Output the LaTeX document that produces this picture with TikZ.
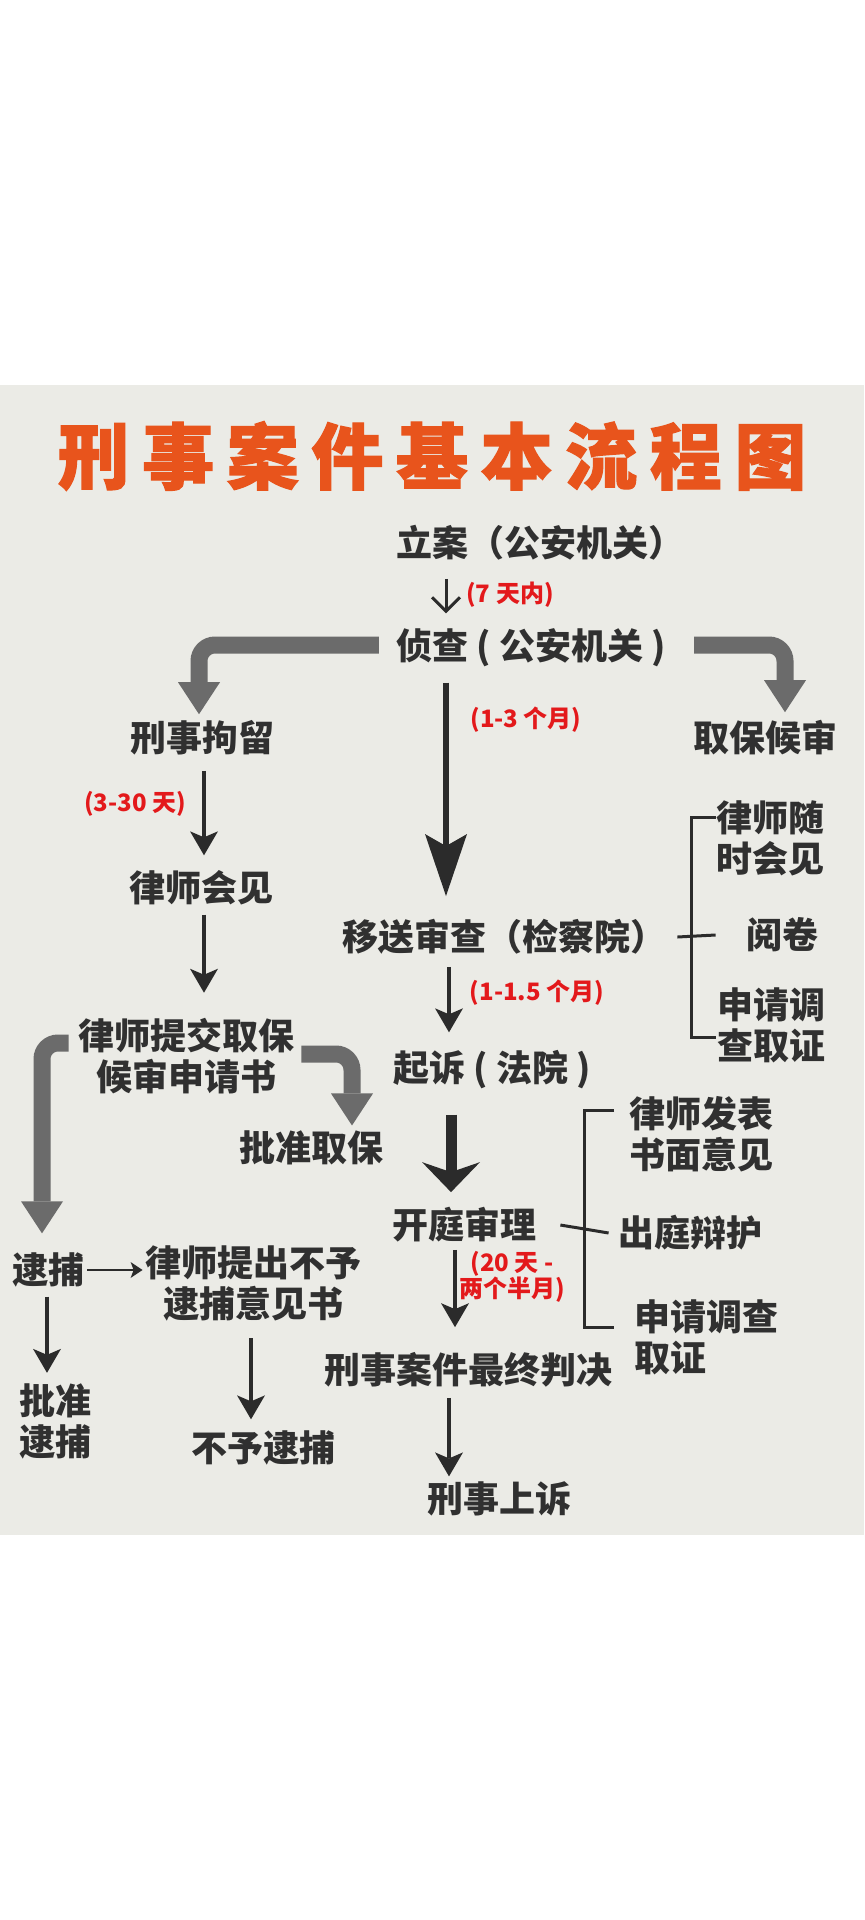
\documentclass[tikz,border=0pt]{standalone}
\usepackage{fontspec}
\setmainfont{Noto Sans CJK SC}
\newfontfamily\titlefont{Noto Sans CJK SC}[FakeBold=1.6]
\usetikzlibrary{arrows.meta}
\definecolor{bgc}{HTML}{EBEBE6}
\definecolor{titlec}{HTML}{E8541C}
\definecolor{txtc}{HTML}{303030}
\definecolor{redc}{HTML}{E3191B}
\definecolor{grayc}{HTML}{6B6B6B}
\definecolor{darkc}{HTML}{2B2B2B}
\newcommand{\tsp}{\hspace{6.3pt}}
\tikzset{
  titlesty/.style={font=\fontsize{36pt}{40pt}\titlefont\bfseries, text=titlec, inner sep=0pt},
  txt/.style={font=\fontsize{18pt}{20.5pt}\selectfont\bfseries, text=txtc, inner sep=0pt, align=center},
  redlbl/.style={font=\fontsize{12pt}{13pt}\selectfont\bfseries, text=redc, inner sep=0pt, align=center},
  grayarr/.style={draw=grayc, line width=8.5pt, rounded corners=8pt, -{Triangle[length=16pt,width=21pt,line width=0pt]}},
  bigarr/.style={draw=darkc, line width=3pt, -{Stealth[length=31pt,width=21pt,inset=6pt,line width=0pt]}},
  thickarr/.style={draw=darkc, line width=5.5pt, -{Stealth[length=15pt,width=29pt,inset=5pt,line width=0pt]}},
  thinarr/.style={draw=darkc, line width=1.75pt, -{Stealth[length=12pt,width=14pt,inset=3pt,line width=0pt]}},
  barbarr/.style={draw=darkc, line width=1.5pt, -{Straight Barb[length=7pt,width=14pt]}},
  smallarr/.style={draw=darkc, line width=1.4pt, -{Stealth[length=6pt,width=8pt,inset=1.5pt,line width=0pt]}},
  brk/.style={draw=darkc, line width=1.5pt},
}
\begin{document}
\begin{tikzpicture}[x=0.5pt,y=-0.5pt]
\fill[white] (0,0) rectangle (864,1920);
\useasboundingbox (0,0) rectangle (864,1920);
\fill[bgc] (0,385) rectangle (864,1535);

% title
\node[titlesty] (title) at (432,456) {刑\tsp 事\tsp 案\tsp 件\tsp 基\tsp 本\tsp 流\tsp 程\tsp 图};

% main nodes
\node[txt] (la) at (540,543) {立案（公安机关）};
\node[txt] (zc) at (531,648) {侦查 ( 公安机关 )};
\node[txt] (xjl) at (202,738) {刑事拘留};
\node[txt] (qbhs) at (765,738) {取保候审};
\node[txt] (lsjj) at (201,888) {律师会见};
\node[txt] (tj) at (186,1056) {律师提交取保\\候审申请书};
\node[txt] (pzqb) at (311,1148) {批准取保};
\node[txt] (db) at (48,1270) {逮捕};
\node[txt] (tc) at (253,1283) {律师提出不予\\逮捕意见书};
\node[txt] (pzdb) at (55,1421) {批准\\逮捕};
\node[txt] (bydb) at (263,1448) {不予逮捕};
\node[txt] (ys) at (504,937) {移送审查（检察院）};
\node[txt] (qs) at (492,1070) {起诉 ( 法院 )};
\node[txt] (kt) at (464,1225) {开庭审理};
\node[txt] (zz) at (468,1370) {刑事案件最终判决};
\node[txt] (ss) at (499,1499) {刑事上诉};
\node[txt] (r1) at (770,838) {律师随\\时会见};
\node[txt] (r2) at (782,935) {阅卷};
\node[txt] (r3) at (771,1025) {申请调\\查取证};
\node[txt] (s1) at (701,1134) {律师发表\\书面意见};
\node[txt] (s2) at (690,1233) {出庭辩护};
\node[txt, align=left, anchor=west] (s3) at (634,1337) {申请调查\\取证};

% red labels
\node[redlbl] (l1) at (510,595) {(7 天内)};
\node[redlbl] (l2) at (526,720) {(1-3 个月)};
\node[redlbl] (l3) at (135,804) {(3-30 天)};
\node[redlbl] (l4) at (537,993) {(1-1.5 个月)};
\node[redlbl] (l5) at (512,1277) {(20 天 -\\两个半月)};

% column coordinates
\coordinate (c1) at (446,0);
\coordinate (c3) at (449,0);
\coordinate (c4) at (451,0);
\coordinate (c5) at (455,0);
\coordinate (c6) at (449,0);
\coordinate (c7) at (204,0);
\coordinate (c10) at (47,0);
\coordinate (c11) at (251,0);
\coordinate (g1) at (199,0);
\coordinate (g2) at (785,0);
\coordinate (g3) at (42,0);
\coordinate (g4) at (352,0);

% central column
\draw[barbarr, shorten <=9pt, shorten >=7.5pt] (la.south -| c1) -- (zc.north -| c1);
\draw[bigarr, shorten <=7.5pt, shorten >=11.5pt] (zc.south -| c1) -- (ys.north -| c1);
\draw[thinarr, shorten <=6pt, shorten >=9pt] (ys.south -| c3) -- (qs.north -| c3);
\draw[thickarr, shorten <=12.5pt, shorten >=7.5pt] (qs.south -| c4) -- (kt.north -| c4);
\draw[thinarr, shorten <=3.5pt, shorten >=12.5pt] (kt.south -| c5) -- (zz.north -| c5);
\draw[thinarr, shorten <=5pt, shorten >=2.5pt] (zz.south -| c6) -- (ss.north -| c6);

% left column
\draw[thinarr, shorten <=7.5pt, shorten >=7.5pt] (xjl.south -| c7) -- (lsjj.north -| c7);
\draw[thinarr, shorten <=4.5pt, shorten >=12.5pt] (lsjj.south -| c7) -- (tj.north -| c7);
\draw[smallarr, shorten <=1.5pt, shorten >=1pt] (db.east) -- (db.east -| tc.west);
\draw[thinarr, shorten <=4.5pt, shorten >=5pt] (db.south -| c10) -- (pzdb.north -| c10);
\draw[thinarr, shorten <=8.5pt, shorten >=5.5pt] (tc.south -| c11) -- (bydb.north -| c11);

% thick gray arrows
\draw[grayarr, shorten >=3pt] ([xshift=-8.5pt,yshift=1.5pt]zc.west) -| (xjl.north -| g1);
\draw[grayarr, shorten >=4pt] ([xshift=14pt,yshift=1.5pt]zc.east) -| (qbhs.north -| g2);
\draw[grayarr, shorten >=9.5pt] ([xshift=-4.5pt,yshift=6.5pt]tj.west) -| (db.north -| g3);
\draw[grayarr, shorten >=2.5pt] ([xshift=3.5pt,yshift=1pt]tj.east) -| (pzqb.north -| g4);

% brackets
\coordinate (b1t) at (691,817);
\coordinate (b1b) at (691,1037);
\draw[brk] ([xshift=5.5pt]ys.east) -- ([xshift=-15pt]r2.west);
\draw[brk] (b1t -| r1.west) -- (b1t) -- (b1b) -- (b1b -| r1.west);
\coordinate (b2t) at (584,1110);
\coordinate (b2b) at (584,1327);
\coordinate (b2x) at (614,0);
\draw[brk] ([xshift=12pt]kt.east) -- ([xshift=-4.5pt]s2.west);
\draw[brk] (b2t -| b2x) -- (b2t) -- (b2b) -- (b2b -| b2x);
\end{tikzpicture}
\end{document}
